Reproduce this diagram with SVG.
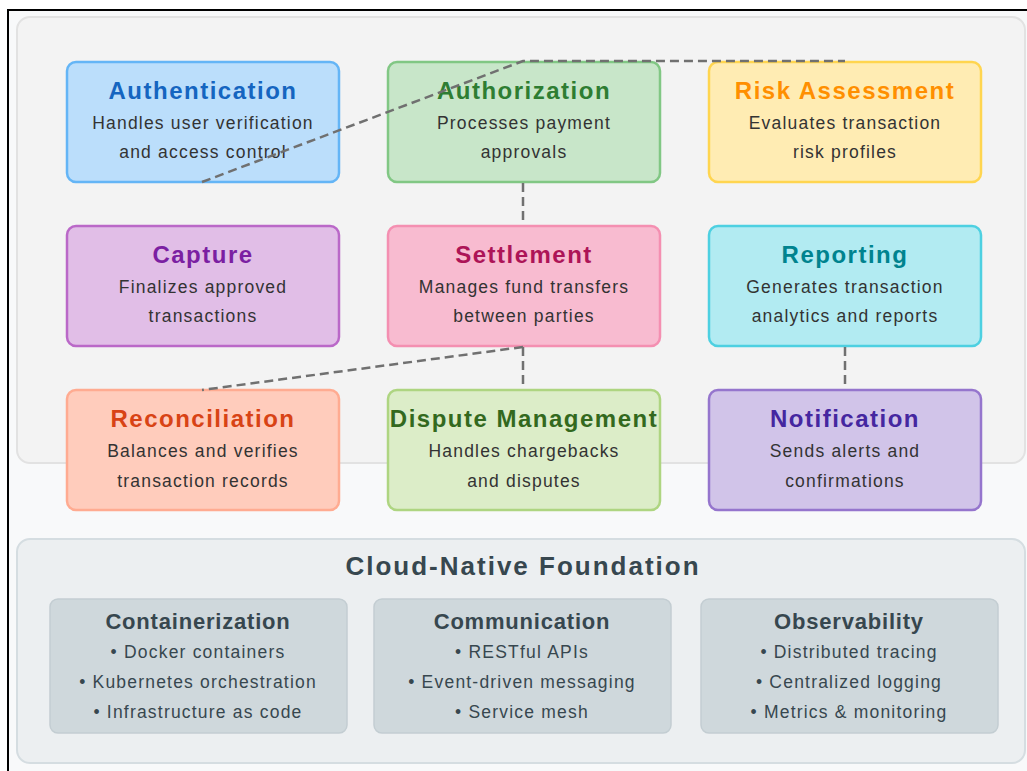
<svg xmlns="http://www.w3.org/2000/svg" width="1027" height="771" viewBox="0 0 1027 771">
  <style>
    .title { font-family: "Liberation Sans", Arial, sans-serif; font-weight: bold; font-size: 24px; letter-spacing: 1.5px; text-anchor: middle; }
    .desc { font-family: "Liberation Sans", Arial, sans-serif; font-size: 17.5px; letter-spacing: 1.2px; fill: #333333; text-anchor: middle; }
    .node { stroke-width: 2.5; }
    .link { fill: none; stroke: #707070; stroke-width: 2.5; stroke-dasharray: 9 5; }
    .found-title { font-family: "Liberation Sans", Arial, sans-serif; font-weight: bold; font-size: 26px; letter-spacing: 2px; fill: #37474f; text-anchor: middle; }
    .layer { fill: #cfd8dc; stroke: #c3cdd2; stroke-width: 1.5; }
    .layer-title { font-family: "Liberation Sans", Arial, sans-serif; font-weight: bold; font-size: 22px; letter-spacing: 0.8px; fill: #37474f; text-anchor: middle; }
    .item { font-family: "Liberation Sans", Arial, sans-serif; font-size: 17.5px; letter-spacing: 1.2px; fill: #37474f; text-anchor: middle; }
  </style>

  <!-- page and frame -->
  <rect x="0" y="0" width="1027" height="771" fill="#ffffff"/>
  <rect x="8" y="10" width="1040" height="790" fill="#f8f9fa" stroke="#000000" stroke-width="2"/>

  <!-- services panel -->
  <rect x="17" y="17" width="1008" height="446" rx="13" fill="#f3f3f3" stroke="#e2e2e2" stroke-width="2"/>

  <!-- row 1 -->
  <g id="authentication">
    <rect class="node" x="67" y="62" width="272" height="120" rx="9" fill="#bbdefb" stroke="#64b5f6"/>
    <text class="title" x="203" y="99" fill="#1565c0">Authentication</text>
    <text class="desc" x="203" y="129">Handles user verification</text>
    <text class="desc" x="203" y="158">and access control</text>
  </g>
  <g id="authorization">
    <rect class="node" x="388" y="62" width="272" height="120" rx="9" fill="#c8e6c9" stroke="#81c784"/>
    <text class="title" x="524" y="99" fill="#2e7d32">Authorization</text>
    <text class="desc" x="524" y="129">Processes payment</text>
    <text class="desc" x="524" y="158">approvals</text>
  </g>
  <g id="risk-assessment">
    <rect class="node" x="709" y="62" width="272" height="120" rx="9" fill="#ffecb3" stroke="#ffd54f"/>
    <text class="title" x="845" y="99" fill="#ff8f00">Risk Assessment</text>
    <text class="desc" x="845" y="129">Evaluates transaction</text>
    <text class="desc" x="845" y="158">risk profiles</text>
  </g>

  <!-- row 2 -->
  <g id="capture">
    <rect class="node" x="67" y="226" width="272" height="120" rx="9" fill="#e1bee7" stroke="#ba68c8"/>
    <text class="title" x="203" y="263" fill="#7b1fa2">Capture</text>
    <text class="desc" x="203" y="293">Finalizes approved</text>
    <text class="desc" x="203" y="322">transactions</text>
  </g>
  <g id="settlement">
    <rect class="node" x="388" y="226" width="272" height="120" rx="9" fill="#f8bbd0" stroke="#f48fb1"/>
    <text class="title" x="524" y="263" fill="#ad1457">Settlement</text>
    <text class="desc" x="524" y="293">Manages fund transfers</text>
    <text class="desc" x="524" y="322">between parties</text>
  </g>
  <g id="reporting">
    <rect class="node" x="709" y="226" width="272" height="120" rx="9" fill="#b2ebf2" stroke="#4dd0e1"/>
    <text class="title" x="845" y="263" fill="#00838f">Reporting</text>
    <text class="desc" x="845" y="293">Generates transaction</text>
    <text class="desc" x="845" y="322">analytics and reports</text>
  </g>

  <!-- row 3 -->
  <g id="reconciliation">
    <rect class="node" x="67" y="390" width="272" height="120" rx="9" fill="#ffccbc" stroke="#ffab91"/>
    <text class="title" x="203" y="427" fill="#d84315">Reconciliation</text>
    <text class="desc" x="203" y="457">Balances and verifies</text>
    <text class="desc" x="203" y="487">transaction records</text>
  </g>
  <g id="dispute-management">
    <rect class="node" x="388" y="390" width="272" height="120" rx="9" fill="#dcedc8" stroke="#aed581"/>
    <text class="title" x="524" y="427" fill="#33691e">Dispute Management</text>
    <text class="desc" x="524" y="457">Handles chargebacks</text>
    <text class="desc" x="524" y="487">and disputes</text>
  </g>
  <g id="notification">
    <rect class="node" x="709" y="390" width="272" height="120" rx="9" fill="#d1c4e9" stroke="#9575cd"/>
    <text class="title" x="845" y="427" fill="#4527a0">Notification</text>
    <text class="desc" x="845" y="457">Sends alerts and</text>
    <text class="desc" x="845" y="487">confirmations</text>
  </g>

  <!-- service links -->
  <g id="connectors">
    <polyline class="link" points="202,182 523,61 845,61"/>
    <line class="link" x1="523" y1="183" x2="523" y2="225"/>
    <line class="link" x1="523" y1="347" x2="202" y2="390"/>
    <line class="link" x1="523" y1="347" x2="523" y2="384"/>
    <line class="link" x1="845" y1="347" x2="845" y2="384"/>
  </g>

  <!-- foundation panel -->
  <g id="foundation">
    <rect x="17" y="539" width="1008" height="224" rx="13" fill="#eceff1" stroke="#d5dde1" stroke-width="2"/>
    <text class="found-title" x="523" y="575">Cloud-Native Foundation</text>
  </g>
  <g id="containerization">
    <rect class="layer" x="50" y="599" width="297" height="134" rx="8"/>
    <text class="layer-title" x="198" y="629">Containerization</text>
    <text class="item" x="198" y="658">• Docker containers</text>
    <text class="item" x="198" y="688">• Kubernetes orchestration</text>
    <text class="item" x="198" y="718">• Infrastructure as code</text>
  </g>
  <g id="communication">
    <rect class="layer" x="374" y="599" width="297" height="134" rx="8"/>
    <text class="layer-title" x="522" y="629">Communication</text>
    <text class="item" x="522" y="658">• RESTful APIs</text>
    <text class="item" x="522" y="688">• Event-driven messaging</text>
    <text class="item" x="522" y="718">• Service mesh</text>
  </g>
  <g id="observability">
    <rect class="layer" x="701" y="599" width="297" height="134" rx="8"/>
    <text class="layer-title" x="849" y="629">Observability</text>
    <text class="item" x="849" y="658">• Distributed tracing</text>
    <text class="item" x="849" y="688">• Centralized logging</text>
    <text class="item" x="849" y="718">• Metrics &amp; monitoring</text>
  </g>
</svg>
